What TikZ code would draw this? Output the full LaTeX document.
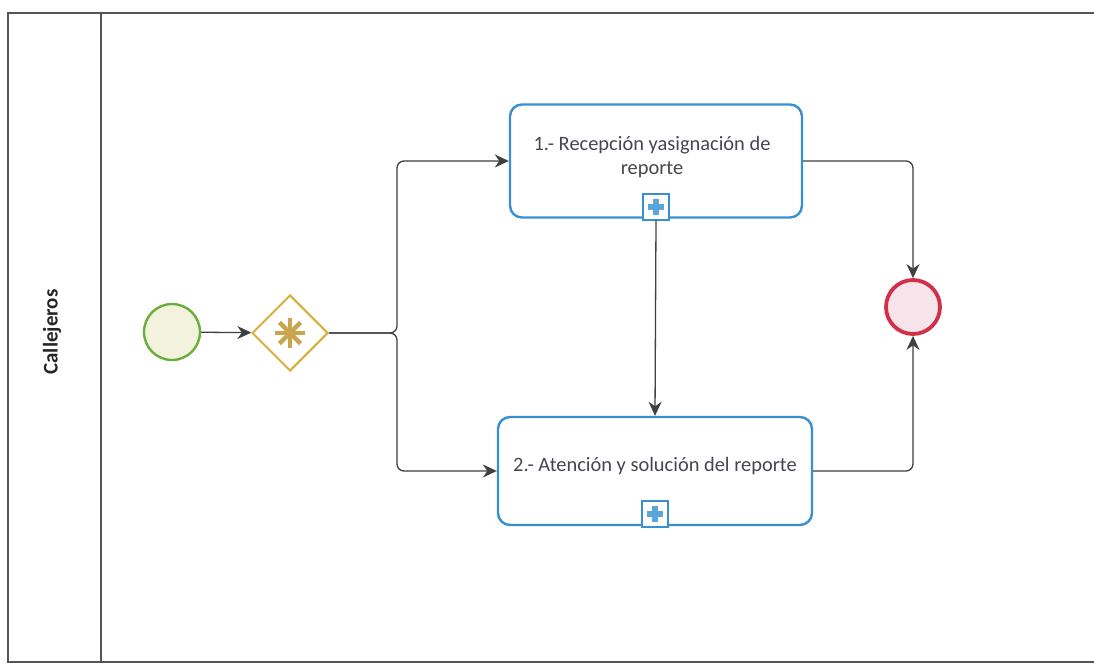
\documentclass[tikz,border=0pt]{standalone}
\usepackage{fontspec}
\setmainfont{Carlito}
\usetikzlibrary{arrows.meta,shapes.geometric}
\definecolor{flowline}{HTML}{404040}
\definecolor{poolline}{HTML}{555555}
\definecolor{taskblue}{HTML}{3A8FD0}
\definecolor{crossblue}{HTML}{5AA6DA}
\definecolor{startgreen}{HTML}{6AAE3A}
\definecolor{startfill}{HTML}{F2F2DE}
\definecolor{endred}{HTML}{D0304A}
\definecolor{endfill}{HTML}{F6E4EA}
\definecolor{gatewaygold}{HTML}{D9AE3A}
\definecolor{stargold}{HTML}{C9A54E}
\definecolor{tasktext}{HTML}{4A4450}
\tikzset{
  pool/.style={draw=poolline, line width=1.8bp},
  flow/.style={draw=flowline, line width=1.3bp, rounded corners=7bp,
    -{Stealth[length=14bp,width=13bp]}},
  taskbox/.style={draw=taskblue, line width=2.4bp, rounded corners=12bp,
    fill=white, inner sep=0pt},
  tasklabel/.style={text=tasktext, font=\fontsize{20.5}{24}\selectfont,
    align=center, inner sep=0pt},
  startev/.style={circle, draw=startgreen, line width=2.4bp, fill=startfill,
    minimum size=56bp, inner sep=0pt},
  endev/.style={circle, draw=endred, line width=3.8bp, fill=endfill,
    minimum size=54bp, inner sep=0pt},
  gatewaybox/.style={diamond, draw=gatewaygold, line width=2bp, fill=white,
    minimum width=76bp, minimum height=76bp, inner sep=0pt},
  submarker/.style={draw=taskblue, line width=1.8bp, fill=white,
    minimum size=26bp, inner sep=0pt},
}
\begin{document}
\begin{tikzpicture}[x=1bp, y=-1bp]
\useasboundingbox (0,0) rectangle (1094,664);
\fill[white] (0,0) rectangle (1094,664);

% pool and lane
\draw[pool] (1094,13) -- (8,13) -- (8,662) -- (1094,662);
\draw[pool] (101,13) -- (101,662);
\node[rotate=90, font=\fontsize{21}{24}\selectfont\bfseries, text=black!85]
  (lane) at (52,332) {Callejeros};

% events and gateway
\node[startev] (start) at (172,332) {};
\node[gatewaybox] (gw) at (290,333) {};
\foreach \a in {0,45,90,135} {
  \draw[stargold, line width=4.5bp] (gw.center) ++(\a:15bp) -- ++(\a+180:30bp);
}
\node[endev] (end) at (913,307) {};

% sub-process tasks
\node[taskbox, minimum width=292bp, minimum height=113bp] (t1) at (656,161) {};
\node[tasklabel] (t1label) at (652,157) {1.- Recepción yasignación de\\reporte};
\node[submarker, anchor=south] (m1) at ([yshift=-2bp]t1.south) {};
\node[taskbox, minimum width=314bp, minimum height=108bp] (t2) at (655,471) {};
\node[tasklabel] (t2label) at (655,466) {2.- Atención y solución del reporte};
\node[submarker, anchor=south] (m2) at ([yshift=-2bp]t2.south) {};
\foreach \m in {m1,m2} {
  \fill[crossblue] ([xshift=-8bp,yshift=-3bp]\m.center) rectangle ([xshift=8bp,yshift=3bp]\m.center);
  \fill[crossblue] ([xshift=-3bp,yshift=-8bp]\m.center) rectangle ([xshift=3bp,yshift=8bp]\m.center);
}

% sequence flows
\coordinate (split) at (397,333);
\draw[flow] (start) -- (gw);
\draw[flow] (gw.east) -- (split) |- (t1.west);
\draw[flow] (gw.east) -- (split) |- (t2.west);
\draw[flow] (m1.south) -- (t2.north);
\draw[flow] (t1.east) -| (end.north);
\draw[flow] (t2.east) -| (end.south);
\end{tikzpicture}
\end{document}
